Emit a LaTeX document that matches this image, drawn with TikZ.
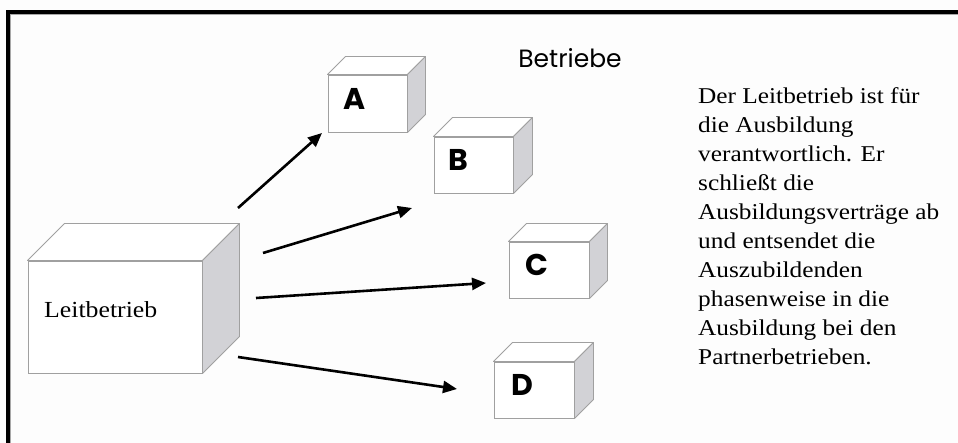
\documentclass[tikz,border=0pt]{standalone}
\usepackage{fontspec}
\setmainfont{Liberation Serif}
\newfontfamily\bodyfont[FakeStretch=1.12]{Liberation Serif}
\newfontfamily\gothic{Poppins}
\usetikzlibrary{arrows.meta}
\definecolor{edgegray}{HTML}{A0A0A0}
\definecolor{sidegray}{HTML}{D2D2D6}
\definecolor{bgcol}{HTML}{FDFDFD}
\definecolor{framegray}{HTML}{A8A8A8}
\tikzset{
  face/.style={draw=edgegray, line width=0.9pt, fill=white, inner sep=0pt},
  facepath/.style={draw=edgegray, line width=0.9pt, line join=round},
  arr/.style={line width=2.6pt, -{Triangle[length=14pt,width=12pt]}},
  boxlabel/.style={font=\gothic\bfseries\fontsize{30}{32}\selectfont, inner sep=0pt},
}
\newcommand\mycube[2]{%
  \filldraw[facepath, fill=white] (#1.north west) -- ++(#2,-#2) -- ([shift={(#2,-#2)}]#1.north east) -- (#1.north east) -- cycle;
  \filldraw[facepath, fill=sidegray] (#1.north east) -- ([shift={(#2,-#2)}]#1.north east) -- ([shift={(#2,-#2)}]#1.south east) -- (#1.south east) -- cycle;
}
\begin{document}
\begin{tikzpicture}[x=1pt,y=-1pt]
  \fill[bgcol] (0,0) rectangle (958,443);
  \useasboundingbox (0,0) rectangle (958,443);
  % frame
  \fill[black] (6,10) rectangle (958,14);
  \fill[black] (6,10) rectangle (9.5,443);
  \draw[framegray, line width=1pt] (10,14.5) -- (958,14.5);
  \draw[framegray, line width=1pt] (10,14.5) -- (10,443);

  % boxes (front faces)
  \node[face, minimum width=174pt, minimum height=112pt] (L) at (115,317) {};
  \mycube{L}{37}
  \node[face, minimum width=79pt, minimum height=57pt] (A) at (367.5,103.5) {};
  \mycube{A}{18}
  \node[face, minimum width=79pt, minimum height=56pt] (B) at (473.5,165) {};
  \mycube{B}{19}
  \node[face, minimum width=80pt, minimum height=56pt] (C) at (549,270) {};
  \mycube{C}{18}
  \node[face, minimum width=80pt, minimum height=56pt] (D) at (534,390) {};
  \mycube{D}{19}

  % labels
  \node[anchor=base west, inner sep=0pt, font=\bodyfont\fontsize{23}{26}\selectfont] (Ltext) at (44,318) {Leitbetrieb};
  \node[boxlabel] (Alab) at (355,99) {A};
  \node[boxlabel] (Blab) at (458,160) {B};
  \node[boxlabel] (Clab) at (537,265) {C};
  \node[boxlabel] (Dlab) at (522,385) {D};
  \node[font=\gothic\fontsize{25}{27}\selectfont, inner sep=0pt] (betr) at (570,58) {Betriebe};

  \node[anchor=north west, inner sep=0pt, align=left,
        font=\bodyfont\fontsize{22.6}{29}\selectfont] (desc) at (698,87)
    {Der Leitbetrieb ist für\\die Ausbildung\\verantwortlich. Er\\schließt die\\Ausbildungsverträge ab\\und entsendet die\\Auszubildenden\\phasenweise in die\\Ausbildung bei den\\Partnerbetrieben.};

  % arrows
  \coordinate (s1) at (238,208); \coordinate (e1) at (322,133);
  \coordinate (s2) at (263,253); \coordinate (e2) at (412,208);
  \coordinate (s3) at (256,298); \coordinate (e3) at (486,283);
  \coordinate (s4) at (238,357); \coordinate (e4) at (457,389);
  \draw[arr] (s1) -- (e1);
  \draw[arr] (s2) -- (e2);
  \draw[arr] (s3) -- (e3);
  \draw[arr] (s4) -- (e4);
\end{tikzpicture}
\end{document}
